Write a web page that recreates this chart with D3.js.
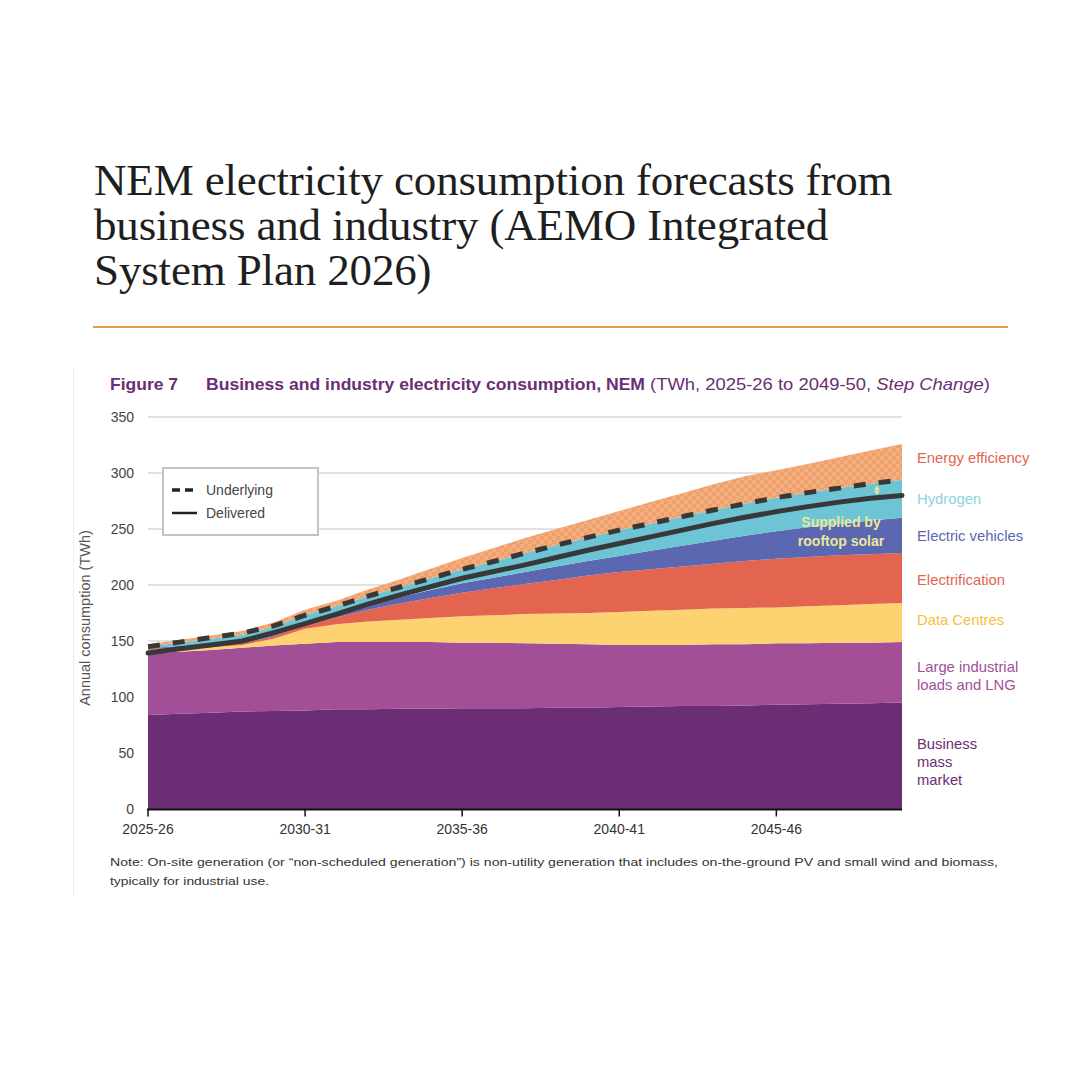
<!DOCTYPE html>
<html>
<head>
<meta charset="utf-8">
<script src="https://cdn.jsdelivr.net/npm/d3@7"></script>
<style>
  html, body { margin: 0; padding: 0; background: #fff; }
  #wrap { position: relative; width: 1080px; height: 1080px; }
  svg { display: block; position: absolute; left: 0; top: 0; }
  #title { position: absolute; left: 94px; top: 158.3px; width: 940px; margin: 0; white-space: pre-line;
    font-family: "Liberation Serif", "DejaVu Serif", serif; font-weight: normal;
    font-size: 45px; line-height: 45px; letter-spacing: -0.15px; color: #1e1e1e; z-index: 2; }
</style>
</head>
<body>
<div id="wrap">
<svg id="chart" width="1080" height="1080"></svg>
<h1 id="title"></h1>
</div>
<script>
// ---------- DATA ----------
const titleLines = ["NEM electricity consumption forecasts from","business and industry (AEMO Integrated","System Plan 2026)"];
const years = ["2025-26","2026-27","2027-28","2028-29","2029-30","2030-31","2031-32","2032-33","2033-34","2034-35",
  "2035-36","2036-37","2037-38","2038-39","2039-40","2040-41","2041-42","2042-43","2043-44","2044-45",
  "2045-46","2046-47","2047-48","2048-49","2049-50"];
const tickLabels = ["2025-26","2030-31","2035-36","2040-41","2045-46"];
const yTicks = [0, 50, 100, 150, 200, 250, 300, 350];

const businessMassMarket = [84, 85, 86, 87, 87.5, 88, 89, 89, 89.5, 89.5, 90, 90, 90, 90.5, 90.5, 91, 91.5, 92, 92, 92.5, 93, 93.5, 94, 94.5, 95];
const largeIndustrial   = [55, 55.5, 56, 57, 58.5, 59.5, 60, 60, 59.5, 59.5, 58.5, 58.5, 58, 57, 56.5, 55.5, 55, 54.5, 55, 54.5, 55, 54.5, 54.5, 54, 54];
const dataCentres       = [3, 2.5, 2.5, 2.5, 6, 13.5, 16, 18.5, 20, 21.5, 23.5, 24.5, 26, 27, 28, 29.5, 30.5, 31.5, 32, 32.5, 32, 33, 33.5, 34.5, 35];
const electrification   = [1, 1.5, 1.5, 1.5, 2, 3.5, 6, 10.5, 14.5, 18, 21, 24, 27, 30, 33.5, 35.5, 37, 38.5, 40, 42, 43.5, 44, 44.5, 44.5, 44.5];
const electricVehicles  = [0.5, 1, 1.5, 2, 2.5, 3, 4, 5, 5.5, 7, 8.5, 9.5, 10.5, 12, 13, 14.5, 16.5, 18.5, 20.5, 22.5, 24.5, 26.5, 28, 30, 31.5];
const hydrogen          = [1.5, 3, 4.5, 5.5, 6, 6, 6, 7, 9, 10.5, 12.5, 14.5, 17, 19, 21, 23, 24.5, 26, 27.5, 28.5, 30, 31, 32, 33, 34];
const energyEfficiency  = [2, 2.5, 3, 3.5, 4, 4.5, 5, 6, 7, 8.5, 10, 12, 13.5, 14.5, 15.5, 17, 19, 21, 23, 24.5, 24.5, 25.5, 27.5, 29.5, 32];

const underlying = [145, 149, 153, 157, 163.5, 173, 181, 190, 198, 206, 214, 221, 228.5, 235.5, 242.5, 249, 255, 261, 267, 272.5, 278, 282.5, 286.5, 290.5, 294];
const delivered  = [139.3, 143, 146.5, 150, 157.5, 165.5, 174, 183, 191, 198.5, 206, 212, 218, 224.5, 231, 237, 243, 249, 255, 260.5, 265.5, 270, 274, 277.5, 280];

const seriesKeys = ["Business mass market","Large industrial loads and LNG","Data Centres","Electrification","Electric vehicles","Hydrogen","Energy efficiency"];
const seriesValues = [businessMassMarket, largeIndustrial, dataCentres, electrification, electricVehicles, hydrogen, energyEfficiency];
const seriesColors = ["#6b2e74", "#a24f98", "#fdd270", "#e3654f", "#5b67b1", "#6cc4d4", "url(#checker)"];
const labelLines = [["Business","mass","market"],["Large industrial","loads and LNG"],["Data Centres"],["Electrification"],["Electric vehicles"],["Hydrogen"],["Energy efficiency"]];
const labelColors = ["#6b2e74", "#a24f98", "#f6bf3e", "#e3654f", "#5b67b1", "#8ed3df", "#e3654f"];

// ---------- TITLE ----------
d3.select("#title").text(titleLines.join("\n"));

// ---------- SETUP ----------
const svg = d3.select("#chart");
const defs = svg.append("defs");
const pat = defs.append("pattern").attr("id","checker").attr("patternUnits","userSpaceOnUse")
  .attr("width",8).attr("height",8);
pat.append("rect").attr("width",8).attr("height",8).attr("fill","#f0a06b");
pat.append("rect").attr("x",0).attr("y",0).attr("width",4).attr("height",4).attr("fill","#f3ae80");
pat.append("rect").attr("x",4).attr("y",4).attr("width",4).attr("height",4).attr("fill","#f3ae80");

svg.append("line").attr("x1",93).attr("x2",1008).attr("y1",327).attr("y2",327)
  .attr("stroke","#e89a55").attr("stroke-width",2);

// faint figure border on left
svg.append("line").attr("x1",73.5).attr("x2",73.5).attr("y1",368).attr("y2",896)
  .attr("stroke","#efefef").attr("stroke-width",1);

// Figure header
const hf = "Liberation Sans, Arial, sans-serif";
svg.append("text").attr("x",110).attr("y",390).attr("font-family",hf).attr("font-size",17)
  .attr("font-weight","bold").attr("fill","#6b2e74").attr("textLength",68).attr("lengthAdjust","spacingAndGlyphs").text("Figure 7");
svg.append("text").attr("x",206).attr("y",390).attr("font-family",hf).attr("font-size",17)
  .attr("font-weight","bold").attr("fill","#6b2e74").attr("textLength",439).attr("lengthAdjust","spacingAndGlyphs")
  .text("Business and industry electricity consumption, NEM");
const hdr2 = svg.append("text").attr("x",650).attr("y",390).attr("font-family",hf).attr("font-size",17)
  .attr("fill","#6b2e74").attr("textLength",340).attr("lengthAdjust","spacingAndGlyphs");
hdr2.append("tspan").text("(TWh, 2025-26 to 2049-50, ");
hdr2.append("tspan").attr("font-style","italic").text("Step Change");
hdr2.append("tspan").text(")");

// Scales
const x = d3.scaleLinear().domain([0, years.length - 1]).range([148, 902]);
const y = d3.scaleLinear().domain([0, 350]).range([809, 417]);

// Gridlines
svg.append("g").selectAll("line").data(yTicks.filter(d=>d>0)).join("line")
  .attr("x1",148).attr("x2",902).attr("y1",d=>y(d)).attr("y2",d=>y(d))
  .attr("stroke","#d9d9d9").attr("stroke-width",1.5);

// Stack
const table = years.map((yr,i)=>{ const o = {year: yr, i}; seriesKeys.forEach((k,j)=> o[k] = seriesValues[j][i]); return o; });
const stack = d3.stack().keys(seriesKeys)(table);
const area = d3.area().x(d=>x(d.data.i)).y0(d=>y(d[0])).y1(d=>y(d[1]));
svg.append("g").selectAll("path").data(stack).join("path")
  .attr("d", area).attr("fill",(d,i)=>seriesColors[i]);

// Lines
const line = d3.line().x((d,i)=>x(i)).y(d=>y(d));
svg.append("path").attr("d", line(underlying)).attr("fill","none").attr("stroke","#383838")
  .attr("stroke-width",5).attr("stroke-dasharray","12,13");
svg.append("path").attr("d", line(delivered)).attr("fill","none").attr("stroke","#383838")
  .attr("stroke-width",5).attr("stroke-linecap","round");

// Rooftop solar annotation
const ax = x(23.2);
const uA = underlying[23] + (underlying[24]-underlying[23])*0.2;
const dA = delivered[23] + (delivered[24]-delivered[23])*0.2;
const ann = svg.append("g").attr("stroke","#ebe79a").attr("fill","#ebe79a");
ann.append("line").attr("x1",ax).attr("x2",ax).attr("y1",y(uA)+4).attr("y2",y(dA)-4).attr("stroke-width",1.5);
ann.append("path").attr("d",`M${ax-3},${y(uA)+7} L${ax},${y(uA)+3} L${ax+3},${y(uA)+7} Z`).attr("stroke","none");
ann.append("path").attr("d",`M${ax-3},${y(dA)-7} L${ax},${y(dA)-3} L${ax+3},${y(dA)-7} Z`).attr("stroke","none");
const annT = svg.append("text").attr("font-family",hf).attr("font-weight","bold")
  .attr("font-size",14).attr("fill","#ebe79a").attr("text-anchor","middle");
annT.append("tspan").attr("x",841).attr("y",527).text("Supplied by");
annT.append("tspan").attr("x",841).attr("y",546).text("rooftop solar");

// X axis
const xAxis = svg.append("g").attr("transform","translate(0,809.5)");
xAxis.append("line").attr("x1",147).attr("x2",902).attr("stroke","#111").attr("stroke-width",2);
xAxis.selectAll("g.t").data(tickLabels).join("g").attr("class","t")
  .attr("transform",d=>`translate(${x(years.indexOf(d))},0)`)
  .each(function(d){
    const g = d3.select(this);
    g.append("line").attr("y1",0).attr("y2",7).attr("stroke","#111").attr("stroke-width",1.5);
    g.append("text").attr("y",24).attr("text-anchor","middle").attr("font-family",hf)
      .attr("font-size",14).attr("fill","#333").text(d);
  });

// Y axis labels
svg.append("g").selectAll("text").data(yTicks).join("text")
  .attr("x",134).attr("y",d=>y(d)+5).attr("text-anchor","end")
  .attr("font-family",hf).attr("font-size",14).attr("fill","#444")
  .text(d=>d);
svg.append("text").attr("transform","translate(90,618) rotate(-90)").attr("text-anchor","middle")
  .attr("font-family",hf).attr("font-size",14.5).attr("fill","#555")
  .text("Annual consumption (TWh)");

// Legend
const lg = svg.append("g");
lg.append("rect").attr("x",163).attr("y",468).attr("width",155).attr("height",67)
  .attr("fill","#fff").attr("stroke","#c4c4c4").attr("stroke-width",2);
lg.append("line").attr("x1",172).attr("x2",197).attr("y1",490).attr("y2",490)
  .attr("stroke","#222").attr("stroke-width",3.5).attr("stroke-dasharray","8,5");
lg.append("line").attr("x1",172).attr("x2",197).attr("y1",513).attr("y2",513)
  .attr("stroke","#222").attr("stroke-width",2.5);
lg.append("text").attr("x",206).attr("y",495).attr("font-family",hf)
  .attr("font-size",14).attr("fill","#444").text("Underlying");
lg.append("text").attr("x",206).attr("y",518).attr("font-family",hf)
  .attr("font-size",14).attr("fill","#444").text("Delivered");

// Right labels
const labelY = [[744,762,780],[667,685],[620],[580],[536],[499],[458]];
const rl = svg.append("g").attr("font-family",hf).attr("font-size",14.8);
labelLines.forEach((lines,j)=>{
  const t = rl.append("text").attr("fill",labelColors[j]);
  lines.forEach((s,k)=> t.append("tspan").attr("x",917).attr("y",labelY[j][k]+5).text(s));
});

// Note
const note = svg.append("g").attr("font-family",hf).attr("font-size",11.5).attr("fill","#333");
note.append("text").attr("x",110).attr("y",866).attr("textLength",888).attr("lengthAdjust","spacingAndGlyphs")
  .text("Note: On-site generation (or \u201cnon-scheduled generation\u201d) is non-utility generation that includes on-the-ground PV and small wind and biomass,");
note.append("text").attr("x",110).attr("y",885).attr("textLength",159).attr("lengthAdjust","spacingAndGlyphs")
  .text("typically for industrial use.");
</script>
</body>
</html>
